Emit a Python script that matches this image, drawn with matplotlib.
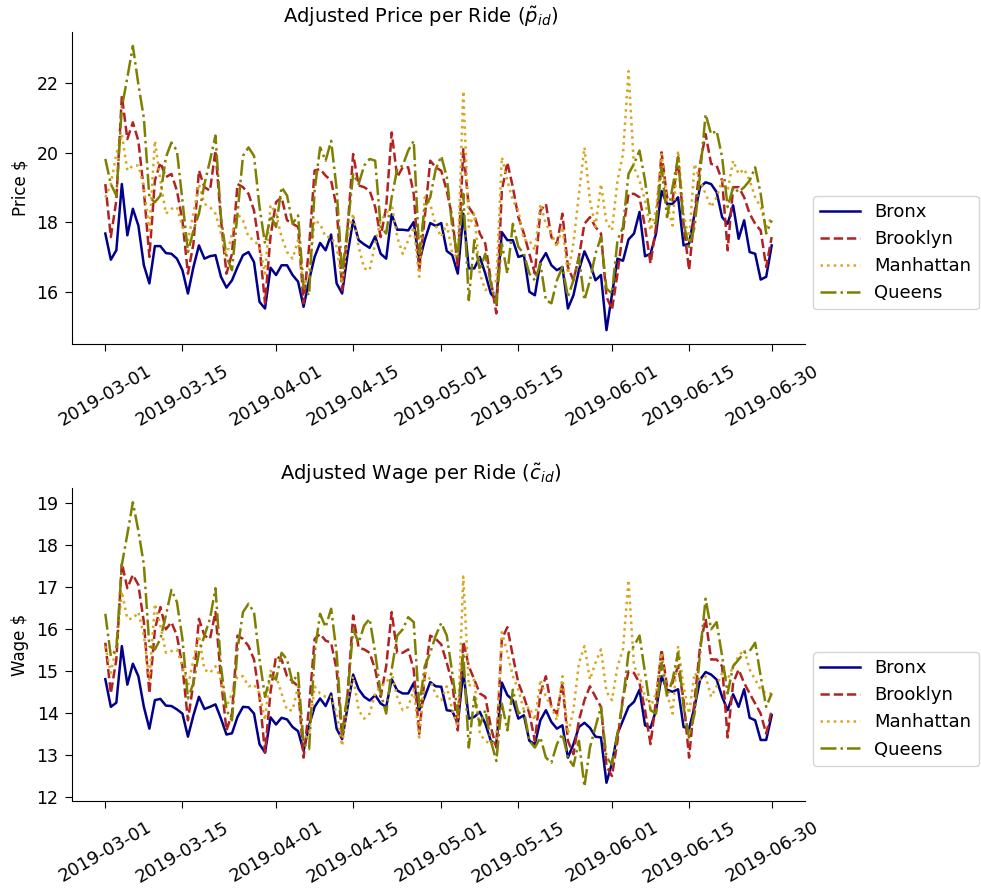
import numpy as np
import pandas as pd
import matplotlib
matplotlib.use("Agg")
import matplotlib.pyplot as plt
from matplotlib.ticker import MultipleLocator

dates = pd.date_range("2019-03-01", "2019-06-30", freq="D")
boroughs = ["Bronx", "Brooklyn", "Manhattan", "Queens"]

# adjusted price per ride, daily
price_bronx = [
    17.68, 16.93, 17.2, 19.1, 17.63, 18.39, 17.91, 16.77, 16.25, 17.32,
    17.32, 17.12, 17.1, 16.96, 16.63, 15.96, 16.72, 17.34, 16.96, 17.03,
    17.06, 16.44, 16.13, 16.34, 16.72, 17.06, 17.15, 16.86, 15.72, 15.53,
    16.7, 16.49, 16.77, 16.77, 16.49, 16.3, 15.58, 16.34, 17.01, 17.41,
    17.2, 17.65, 16.25, 15.96, 17.1, 18.06, 17.49, 17.37, 17.27, 17.6,
    17.1, 16.96, 18.23, 17.79, 17.79, 17.77, 18.01, 16.86, 17.49, 17.98,
    17.9, 17.98, 17.18, 17.06, 16.53, 18.25, 16.68, 16.68, 17.01, 16.53,
    15.96, 15.77, 17.72, 17.49, 17.49, 17.01, 17.06, 16.01, 15.91, 16.86,
    17.12, 16.77, 16.63, 16.72, 15.53, 15.91, 16.63, 17.17, 16.82, 16.34,
    16.49, 14.91, 15.93, 16.96, 16.9, 17.51, 17.68, 18.3, 17.03, 17.1,
    17.68, 18.9, 18.53, 18.53, 18.72, 17.34, 17.39, 18.25, 19.01, 19.15,
    19.1, 18.87, 18.15, 17.96, 18.49, 17.53, 18.06, 17.15, 17.1, 16.36,
    16.44, 17.34]
price_brooklyn = [
    19.1, 17.58, 18.63, 21.63, 20.39, 20.87, 20.34, 18.91, 17.01, 19.2,
    19.72, 19.3, 19.39, 18.91, 18.06, 16.53, 17.39, 19.49, 19.01, 18.91,
    20.06, 18.06, 16.53, 17.1, 19.1, 19.01, 18.82, 18.34, 17.3, 15.68,
    17.6, 18.58, 18.72, 18.06, 17.96, 17.87, 15.68, 17.3, 19.49, 19.53,
    19.34, 19.2, 18.44, 16.06, 17.87, 19.96, 19.06, 19.01, 18.91, 18.44,
    17.58, 18.44, 20.58, 19.3, 19.58, 19.58, 18.82, 16.63, 18.15, 19.77,
    19.58, 19.48, 18.91, 18.15, 16.72, 20.1, 18.44, 18.2, 17.68, 17.39,
    16.34, 15.39, 18.91, 19.72, 19.01, 18.15, 17.68, 17.1, 16.53, 18.34,
    18.53, 17.58, 17.39, 18.25, 16.72, 16.34, 17.01, 17.96, 18.15, 17.87,
    17.68, 15.87, 15.5, 16.53, 17.77, 18.82, 18.82, 18.72, 17.87, 16.82,
    17.87, 20.01, 18.72, 18.63, 19.87, 17.96, 16.63, 18.25, 19.68, 20.53,
    19.68, 19.63, 19.2, 17.2, 19.01, 19.01, 18.72, 18.25, 17.96, 17.77,
    16.72, 17.58]
price_manhattan = [
    18.72, 19.1, 19.96, 20.53, 19.49, 19.63, 19.63, 19.01, 17.77, 20.34,
    19.2, 18.25, 18.39, 18.44, 17.87, 17.49, 18.25, 19.1, 18.53, 18.44,
    18.25, 17.68, 17.01, 17.68, 18.25, 18.06, 17.58, 17.49, 17.3, 16.53,
    18.5, 18.25, 17.58, 17.15, 16.96, 17.49, 16.15, 16.53, 18.06, 17.96,
    17.58, 17.58, 17.3, 16.25, 17.49, 18.25, 17.3, 16.68, 16.63, 17.39,
    18.06, 18.25, 18.53, 17.58, 17.1, 17.49, 17.87, 16.44, 18.72, 18.53,
    17.9, 17.58, 17.96, 17.1, 17.01, 21.77, 17.87, 18.25, 16.53, 16.06,
    16.15, 16.34, 19.87, 19.2, 18.63, 18.34, 17.49, 17.49, 17.2, 18.53,
    17.96, 17.68, 17.3, 17.87, 16.53, 17.39, 18.82, 20.15, 18.63, 17.87,
    19.1, 18.0, 17.77, 19.2, 19.96, 22.34, 19.58, 19.2, 18.63, 17.77,
    18.34, 19.96, 18.53, 17.91, 20.06, 18.25, 17.49, 19.68, 19.2, 18.82,
    18.44, 18.72, 19.2, 18.91, 19.77, 19.39, 19.53, 19.2, 18.72, 18.44,
    17.87, 18.15]
price_queens = [
    19.82, 19.1, 18.77, 21.3, 22.15, 23.06, 21.96, 20.99, 18.72, 18.58,
    18.77, 19.87, 20.29, 20.06, 18.63, 17.15, 17.77, 18.25, 19.1, 19.77,
    20.49, 18.15, 17.01, 16.63, 18.25, 19.91, 20.15, 19.91, 18.44, 17.39,
    18.2, 17.87, 19.01, 18.77, 17.96, 18.2, 16.15, 15.91, 18.91, 20.15,
    19.77, 20.34, 18.96, 16.53, 17.87, 19.39, 19.1, 19.63, 19.82, 19.77,
    17.87, 17.68, 18.72, 19.53, 19.63, 20.06, 20.34, 17.1, 18.44, 18.72,
    19.53, 19.9, 19.3, 17.87, 17.01, 18.82, 15.77, 17.49, 16.63, 17.1,
    16.25, 15.68, 17.39, 16.53, 17.96, 17.3, 17.1, 16.53, 16.34, 16.82,
    15.77, 15.68, 16.34, 16.72, 15.87, 16.34, 17.01, 15.77, 16.34, 17.1,
    17.58, 16.1, 15.96, 17.49, 17.87, 19.39, 19.68, 20.06, 19.2, 18.06,
    17.96, 19.58, 18.15, 19.01, 19.87, 17.96, 17.3, 17.87, 19.39, 21.1,
    20.53, 20.63, 19.87, 18.44, 19.01, 18.87, 19.01, 19.2, 19.58, 18.82,
    17.68, 18.06]

# adjusted wage per ride, daily
wage_bronx = [
    14.8, 14.14, 14.24, 15.59, 14.67, 15.17, 14.87, 14.14, 13.62, 14.3,
    14.33, 14.17, 14.16, 14.08, 13.98, 13.43, 13.94, 14.38, 14.09, 14.14,
    14.2, 13.86, 13.48, 13.51, 13.9, 14.14, 14.13, 13.98, 13.25, 13.05,
    13.89, 13.72, 13.88, 13.84, 13.66, 13.56, 13.09, 13.7, 14.14, 14.34,
    14.16, 14.46, 13.62, 13.37, 14.14, 14.91, 14.56, 14.38, 14.29, 14.42,
    14.22, 14.14, 14.8, 14.53, 14.46, 14.46, 14.71, 14.06, 14.38, 14.73,
    14.63, 14.62, 14.06, 14.04, 13.74, 14.99, 13.86, 13.9, 14.02, 13.74,
    13.33, 13.25, 14.72, 14.42, 14.3, 13.86, 13.94, 13.33, 13.25, 13.82,
    14.06, 13.78, 13.62, 13.7, 12.93, 13.25, 13.66, 13.76, 13.64, 13.43,
    13.41, 12.33, 12.8, 13.5, 13.82, 14.14, 14.26, 14.55, 13.7, 13.64,
    14.06, 14.87, 14.55, 14.5, 14.56, 13.66, 13.62, 14.14, 14.79, 14.97,
    14.91, 14.79, 14.38, 14.06, 14.44, 14.14, 14.56, 13.88, 13.82, 13.35,
    13.35, 13.94]
wage_brooklyn = [
    15.67, 14.46, 15.27, 17.57, 16.97, 17.29, 17.05, 16.16, 14.46, 15.99,
    16.52, 15.99, 16.16, 15.84, 15.11, 13.82, 14.71, 16.24, 15.84, 15.76,
    16.4, 14.79, 13.58, 13.98, 15.84, 15.76, 15.59, 15.27, 14.38, 13.05,
    14.5, 15.35, 15.27, 14.87, 14.75, 14.63, 12.93, 14.14, 15.76, 15.88,
    15.72, 15.67, 15.03, 13.41, 14.46, 16.32, 15.55, 15.51, 15.43, 15.03,
    14.38, 15.11, 16.4, 15.43, 15.43, 15.51, 15.03, 13.5, 14.87, 15.84,
    15.76, 15.63, 15.19, 14.71, 13.58, 15.7, 15.11, 14.79, 14.46, 14.38,
    13.66, 13.17, 15.76, 16.04, 15.35, 14.71, 14.38, 13.98, 13.33, 14.46,
    14.87, 14.14, 13.98, 14.71, 13.33, 13.01, 13.82, 14.3, 14.63, 14.38,
    14.14, 12.73, 12.49, 13.33, 14.38, 14.99, 14.95, 14.71, 14.06, 13.25,
    14.3, 15.51, 14.63, 14.71, 15.11, 14.3, 12.93, 14.3, 15.59, 16.24,
    15.27, 15.27, 15.11, 13.41, 14.71, 15.03, 14.71, 14.46, 14.22, 13.98,
    13.5, 14.06]
wage_manhattan = [
    15.59, 14.95, 15.59, 16.89, 16.24, 16.24, 16.4, 15.84, 14.79, 16.6,
    16.08, 15.43, 15.47, 15.51, 15.11, 14.63, 15.27, 15.84, 15.03, 14.95,
    15.11, 14.79, 14.14, 14.46, 14.87, 14.87, 14.63, 14.67, 14.46, 13.82,
    15.0, 14.87, 14.46, 14.06, 14.06, 14.63, 13.33, 13.5, 14.63, 14.46,
    14.38, 14.38, 13.98, 13.21, 14.3, 14.87, 14.06, 13.86, 13.98, 14.46,
    14.63, 14.71, 14.95, 14.38, 14.06, 14.14, 14.55, 13.41, 14.95, 14.79,
    14.42, 14.3, 14.63, 14.06, 13.66, 17.25, 14.63, 14.79, 13.5, 13.33,
    13.25, 13.33, 15.92, 15.43, 14.87, 14.55, 14.06, 14.14, 13.82, 14.79,
    14.38, 14.14, 13.82, 14.87, 13.5, 14.06, 15.19, 15.59, 14.79, 15.19,
    15.51, 14.5, 14.3, 15.11, 15.51, 17.17, 15.11, 14.87, 14.38, 14.14,
    14.46, 15.43, 14.46, 13.98, 15.59, 14.63, 13.98, 14.95, 14.79, 14.87,
    14.38, 14.63, 14.95, 14.79, 15.11, 15.35, 15.51, 15.03, 14.79, 14.55,
    14.46, 14.46]
wage_queens = [
    16.36, 15.35, 15.51, 17.53, 18.26, 19.02, 18.34, 17.53, 15.59, 15.51,
    15.76, 16.32, 16.93, 16.64, 15.76, 14.34, 14.71, 15.43, 15.84, 16.24,
    16.97, 15.11, 14.06, 13.82, 15.51, 16.4, 16.6, 16.4, 15.27, 14.38,
    14.9, 14.79, 15.43, 15.27, 14.71, 14.95, 13.25, 13.13, 15.43, 16.36,
    16.04, 16.48, 15.43, 13.5, 14.46, 15.99, 15.67, 16.08, 16.24, 15.43,
    14.46, 13.98, 15.03, 15.84, 15.99, 16.28, 16.16, 14.14, 15.11, 15.43,
    15.84, 16.14, 15.84, 14.95, 13.98, 15.43, 13.17, 14.38, 13.7, 14.06,
    13.33, 12.85, 14.22, 13.58, 14.55, 13.98, 14.06, 13.33, 13.17, 13.41,
    12.93, 12.81, 13.25, 13.5, 12.93, 12.73, 13.33, 12.24, 13.17, 13.66,
    14.14, 12.93, 12.77, 13.5, 14.3, 15.43, 15.59, 15.84, 14.95, 14.06,
    13.98, 15.19, 14.38, 14.79, 15.43, 14.14, 13.41, 13.98, 15.43, 16.72,
    15.99, 16.16, 15.35, 14.46, 15.11, 15.27, 15.43, 15.47, 15.67, 14.87,
    14.14, 14.46]

tick_dates = pd.to_datetime(["2019-03-01", "2019-03-15", "2019-04-01", "2019-04-15",
                             "2019-05-01", "2019-05-15", "2019-06-01", "2019-06-15",
                             "2019-06-30"])
colors = ["darkblue", "firebrick", "goldenrod", "olive"]
styles = ["-", "--", ":", "-."]

fig = plt.figure(figsize=(9.81, 8.9), dpi=100)
ax1 = fig.add_axes([0.0734, 0.6131, 0.7472, 0.3512])
ax2 = fig.add_axes([0.0734, 0.1003, 0.7472, 0.3513])

panels = [
    (ax1, [price_bronx, price_brooklyn, price_manhattan, price_queens],
     r"Adjusted Price per Ride ($\tilde{p}_{id}$)", "Price \\$", 2),
    (ax2, [wage_bronx, wage_brooklyn, wage_manhattan, wage_queens],
     r"Adjusted Wage per Ride ($\tilde{c}_{id}$)", "Wage \\$", 1),
]

for ax, series, title, ylab, ystep in panels:
    for name, vals, c, ls in zip(boroughs, series, colors, styles):
        ax.plot(dates, vals, color=c, linestyle=ls, linewidth=1.8, label=name)
    ax.set_title(title, fontsize=14, x=0.476)
    ax.set_ylabel(ylab, fontsize=12, labelpad=5)
    ax.yaxis.set_major_locator(MultipleLocator(ystep))
    ax.set_xticks(tick_dates)
    ax.set_xticklabels([d.strftime("%Y-%m-%d") for d in tick_dates],
                       rotation=30, ha="center", fontsize=13)
    ax.tick_params(axis="x", length=4.7, pad=8)
    ax.tick_params(axis="y", labelsize=12.5, length=4.7, pad=5)
    ax.spines["top"].set_visible(False)
    ax.spines["right"].set_visible(False)
    ax.legend(loc="upper left", bbox_to_anchor=(1.011, 0.475), borderaxespad=0,
              fontsize=13, handlelength=2.2)

fig.savefig("out.png", dpi=100)
